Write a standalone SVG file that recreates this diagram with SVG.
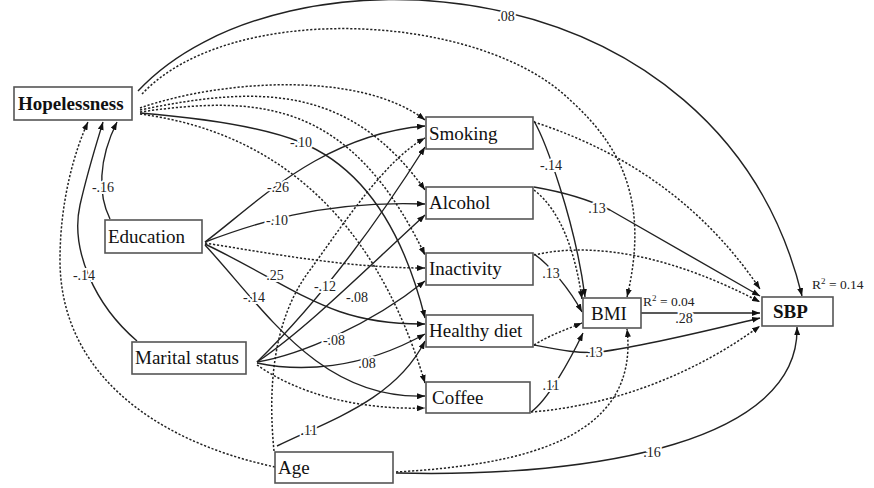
<svg xmlns="http://www.w3.org/2000/svg" width="874" height="488" viewBox="0 0 874 488">
<defs>
<marker id="ah" viewBox="0 0 8 6" refX="8" refY="3" markerWidth="8" markerHeight="6" markerUnits="userSpaceOnUse" orient="auto"><path d="M0,0 L8,3 L0,6 z" fill="#111"/></marker>
<style>
.box{fill:#fff;stroke:#555;stroke-width:1.6}
.nt{font-family:"Liberation Serif","Times New Roman",serif;font-size:19px;fill:#111}
.b{font-weight:bold}
.s{fill:none;stroke:#222;stroke-width:1.4;marker-end:url(#ah)}
.d{fill:none;stroke:#222;stroke-width:1.5;stroke-dasharray:2.2 1.8;marker-end:url(#ah)}
.lb{font-family:"Liberation Serif","Times New Roman",serif;font-size:14px;fill:#222;stroke:#fff;stroke-width:4;paint-order:stroke;text-anchor:middle}
.r2{font-family:"Liberation Serif","Times New Roman",serif;font-size:13.5px;fill:#222}
</style>
</defs>
<rect width="874" height="488" fill="#fff"/>
<g id="connectors">
<path class="s" d="M138,91 C280,-62 720,-42 802,296"/>
<path class="d" d="M142,94 C230,0 480,12 570,100 C620,145 650,200 627,297"/>
<path class="d" d="M140,108 C220,80 360,70 425,120"/>
<path class="d" d="M140,110 C260,85 350,85 425,190"/>
<path class="d" d="M140,112 C260,95 350,100 425,255"/>
<path class="s" d="M140,113 Q250,122 300,142 Q390,178 425,318"/>
<path class="d" d="M140,114 C260,130 370,200 425,383"/>
<path class="s" d="M110,219 C98,195 98,160 117,122"/>
<path class="s" d="M205,242 C255,205 320,135 425,126"/>
<path class="s" d="M205,242 C250,225 320,200 425,204"/>
<path class="d" d="M205,243 C280,255 350,268 425,268"/>
<path class="s" d="M205,244 C300,290 330,325 425,324"/>
<path class="s" d="M205,245 C265,310 320,400 425,396"/>
<path class="s" d="M137,341 C95,305 70,250 80,205 C88,170 96,145 103,122"/>
<path class="s" d="M257,362 C300,320 360,250 425,147"/>
<path class="s" d="M257,362 C305,330 365,270 425,215"/>
<path class="s" d="M257,362 C300,355 370,325 425,281"/>
<path class="s" d="M257,363 C300,372 360,370 425,334"/>
<path class="d" d="M257,365 C300,395 360,410 425,408"/>
<path class="d" d="M275,467 C150,440 60,370 60,260 C60,200 75,150 88,122"/>
<path class="s" d="M277,446 C330,420 395,400 425,341"/>
<path class="d" d="M274,451 C268,390 272,320 310,270 C345,222 385,160 425,138"/>
<path class="d" d="M396,472 C520,465 640,440 627,329"/>
<path class="s" d="M396,473 C600,478 800,440 797,327"/>
<path class="s" d="M534,121 C545,140 575,220 585,297"/>
<path class="d" d="M534,122 C620,150 700,200 760,289"/>
<path class="d" d="M534,190 C560,210 575,250 582,299"/>
<path class="s" d="M534,187 Q580,195 610,210 L760,296"/>
<path class="s" d="M534,254 C550,265 570,290 582,312"/>
<path class="d" d="M534,255 C600,240 680,260 760,302"/>
<path class="s" d="M641,313 L760,313"/>
<path class="d" d="M534,345 C550,335 565,330 582,323"/>
<path class="s" d="M534,345 C560,350 580,354 600,352 C650,345 710,330 760,318"/>
<path class="s" d="M531,412 C548,400 570,360 583,333"/>
<path class="d" d="M531,412 C620,405 700,370 760,326"/>
</g>
<g id="labels">
<text class="lb" x="506" y="21">.08</text>
<text class="lb" x="103" y="192">-.16</text>
<text class="lb" x="84" y="280">-.14</text>
<text class="lb" x="301" y="147">-.10</text>
<text class="lb" x="278" y="192">-.26</text>
<text class="lb" x="277" y="225">-.10</text>
<text class="lb" x="275" y="280">.25</text>
<text class="lb" x="254" y="302">-.14</text>
<text class="lb" x="325" y="291">-.12</text>
<text class="lb" x="357" y="302">-.08</text>
<text class="lb" x="334" y="345">-.08</text>
<text class="lb" x="367" y="368">.08</text>
<text class="lb" x="309" y="435">.11</text>
<text class="lb" x="551" y="170">-.14</text>
<text class="lb" x="597" y="213">.13</text>
<text class="lb" x="551" y="278">.13</text>
<text class="lb" x="684" y="323">.28</text>
<text class="lb" x="594" y="357">.13</text>
<text class="lb" x="551" y="390">.11</text>
<text class="lb" x="652" y="457">.16</text>
<text class="r2" x="643" y="306">R<tspan dy="-5" font-size="9">2</tspan><tspan dy="5"> = 0.04</tspan></text>
<text class="r2" x="812" y="289">R<tspan dy="-5" font-size="9">2</tspan><tspan dy="5"> = 0.14</tspan></text>
</g>
<g id="hopelessness"><rect class="box" x="14" y="87" width="118" height="33"/><text class="nt b" x="18" y="110">Hopelessness</text></g>
<g id="education"><rect class="box" x="105" y="220" width="97" height="33"/><text class="nt" x="108" y="243">Education</text></g>
<g id="marital"><rect class="box" x="132" y="342" width="114" height="32"/><text class="nt" x="135" y="364">Marital status</text></g>
<g id="age"><rect class="box" x="275" y="452" width="118" height="31"/><text class="nt" x="278" y="474">Age</text></g>
<g id="smoking"><rect class="box" x="426" y="117" width="107" height="32"/><text class="nt" x="429" y="140">Smoking</text></g>
<g id="alcohol"><rect class="box" x="426" y="187" width="107" height="32"/><text class="nt" x="429" y="209">Alcohol</text></g>
<g id="inactivity"><rect class="box" x="426" y="253" width="107" height="32"/><text class="nt" x="429" y="275">Inactivity</text></g>
<g id="healthydiet"><rect class="box" x="426" y="315" width="107" height="32"/><text class="nt" x="429" y="337">Healthy diet</text></g>
<g id="coffee"><rect class="box" x="426" y="382" width="104" height="31"/><text class="nt" x="432" y="404">Coffee</text></g>
<g id="bmi"><rect class="box" x="583" y="298" width="58" height="30"/><text class="nt" x="591" y="320">BMI</text></g>
<g id="sbp"><rect class="box" x="762" y="297" width="71" height="29"/><text class="nt b" x="773" y="318">SBP</text></g>
</svg>
